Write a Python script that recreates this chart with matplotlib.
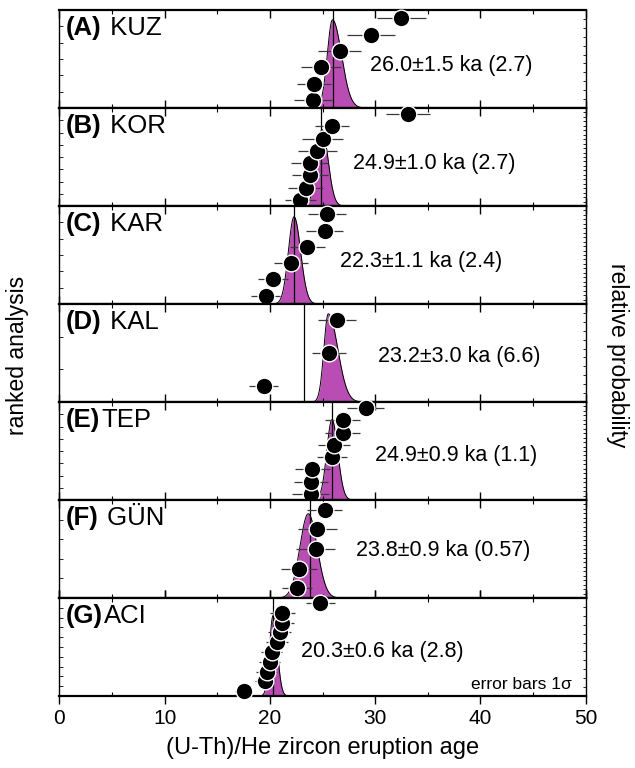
import numpy as np
import matplotlib
matplotlib.use("Agg")
import matplotlib.pyplot as plt

plt.rcParams['font.family'] = ['Liberation Sans', 'DejaVu Sans']

# ---------------- data ----------------
panel_letters = ["(A)", "(B)", "(C)", "(D)", "(E)", "(F)", "(G)"]
panel_names = [" KUZ", " KOR", " KAR", " KAL", "TEP", " GÜN", "ACI"]
stat_labels = ["26.0±1.5 ka (2.7)", "24.9±1.0 ka (2.7)", "22.3±1.1 ka (2.4)",
               "23.2±3.0 ka (6.6)", "24.9±0.9 ka (1.1)", "23.8±0.9 ka (0.57)",
               "20.3±0.6 ka (2.8)"]

# ranked ages (ascending, bottom to top) and 1-sigma errors
ages_A = [24.1, 24.2, 24.9, 26.65, 29.6, 32.5]
err_A = [1.8, 1.65, 1.9, 2.05, 2.3, 2.3]
ages_B = [22.9, 23.4, 23.8, 23.8, 24.5, 25.0, 25.9, 33.1]
err_B = [1.45, 1.65, 1.7, 1.75, 1.85, 1.9, 1.65, 2.1]
ages_C = [19.6, 20.3, 22.0, 23.55, 25.2, 25.45]
err_C = [1.35, 1.45, 1.6, 1.65, 1.75, 1.8]
ages_D = [19.4, 25.6, 26.4]
err_D = [1.4, 1.6, 1.8]
ages_E = [23.9, 23.9, 24.05, 25.9, 26.1, 26.9, 26.9, 29.1]
err_E = [1.75, 1.65, 1.65, 1.45, 1.5, 1.65, 1.65, 1.75]
ages_F = [22.6, 22.8, 24.35, 24.5, 25.2]
err_F = [1.4, 1.7, 1.85, 1.85, 1.65]
ages_G = [17.5, 19.5, 19.7, 20.0, 20.2, 20.7, 20.95, 21.2, 21.2, 24.8]
err_G = [0.8, 0.95, 1.0, 1.0, 1.0, 1.05, 1.1, 1.1, 1.15, 1.35]

ages = [ages_A, ages_B, ages_C, ages_D, ages_E, ages_F, ages_G]
errs = [err_A, err_B, err_C, err_D, err_E, err_F, err_G]

# vertical line positions (eruption age)
line_pos = [26.0, 24.9, 22.3, 23.2, 25.9, 23.8, 20.3]

# relative-probability curve (peak, left/right width, relative height)
pdf_center = [25.95, 24.95, 22.3, 25.55, 25.9, 23.65, 20.3]
pdf_sig_left = [0.5, 0.52, 0.54, 0.42, 0.5, 0.8, 0.33]
pdf_sig_right = [0.85, 0.58, 0.62, 0.9, 0.55, 0.84, 0.4]
pdf_height = [0.9, 0.78, 0.89, 0.9, 0.82, 0.86, 0.82]

# right-axis tick counts (relative probability scale)
right_ticks = [11, 22, 22, 11, 22, 22, 11]

xticks = [0, 10, 20, 30, 40, 50]

# ---------------- layout ----------------
W, H = 635, 768
fig = plt.figure(figsize=(W / 100, H / 100), dpi=100)
left_px, right_px = 59.3, 585.7
top_px, panel_h = 10.0, 98.0
magenta = '#B94DB4'

axes = []
for k in range(7):
    y_top = top_px + k * panel_h
    ax = fig.add_axes([left_px / W, 1 - (y_top + panel_h) / H,
                       (right_px - left_px) / W, panel_h / H])
    axes.append(ax)
    n = len(ages[k])
    ax.set_xlim(0, 50)
    ax.set_ylim(0, n)

    # probability curve
    xs = np.linspace(0, 50, 2001)
    sig = np.where(xs < pdf_center[k], pdf_sig_left[k], pdf_sig_right[k])
    ys = pdf_height[k] * n * np.exp(-0.5 * ((xs - pdf_center[k]) / sig) ** 2)
    ax.fill_between(xs, 0, ys, color=magenta, lw=0, zorder=1)
    ax.plot(xs, ys, color='black', lw=0.7, zorder=2)

    ax.axvline(line_pos[k], color='black', lw=0.9, zorder=3)

    yy = np.arange(n) + 0.5
    ax.errorbar(ages[k], yy, xerr=errs[k], fmt='none', ecolor='#3a3a3a',
                elinewidth=0.9, capsize=0, zorder=4)
    ax.plot(ages[k], yy, 'o', ms=12, mfc='black', mec='white', mew=1.0,
            zorder=5, clip_on=False)

    # spines
    for s in ['top', 'bottom']:
        ax.spines[s].set_linewidth(1.6)
    for s in ['left', 'right']:
        ax.spines[s].set_linewidth(1.0)

    ax.set_xticks(xticks)
    ax.set_xticks(np.arange(5, 50, 10), minor=True)
    ax.tick_params(axis='x', which='major', direction='in', length=6, width=1.0,
                   top=True, bottom=True, labelbottom=False)
    ax.tick_params(axis='x', which='minor', direction='in', length=3, width=0.8,
                   top=True, bottom=True)
    ax.set_yticks(np.arange(1, n))
    ax.tick_params(axis='y', which='major', direction='in', length=3, width=0.6,
                   left=True, right=False, labelleft=False)

    ax2 = ax.twinx()
    ax2.set_ylim(0, 1)
    ax2.set_yticks(np.linspace(0, 1, right_ticks[k] + 1)[1:-1])
    ax2.tick_params(axis='y', direction='in', length=2.5, width=0.6,
                    labelright=False)
    for s in ax2.spines.values():
        s.set_visible(False)

stat_x_px = [370, 353, 340, 378, 375, 356, 301]
stat_y = [0.43, 0.43, 0.43, 0.46, 0.45, 0.48, 0.45]
for k, ax in enumerate(axes):
    ax.text((stat_x_px[k] - left_px) / (right_px - left_px), stat_y[k], stat_labels[k],
            transform=ax.transAxes, fontsize=15.5, ha='left', va='center', zorder=6)

# panel labels
fig.canvas.draw()
renderer = fig.canvas.get_renderer()
for k, ax in enumerate(axes):
    t = ax.text(0.013, 0.815, panel_letters[k], transform=ax.transAxes,
                fontsize=18.5, fontweight='bold', ha='left', va='center', zorder=6)
    bb = t.get_window_extent(renderer)
    x_disp = bb.x1 + 1
    x_ax = ax.transAxes.inverted().transform((x_disp, 0))[0]
    ax.text(x_ax, 0.815, panel_names[k], transform=ax.transAxes,
            fontsize=18.5, ha='left', va='center', zorder=6)

axes[-1].text(0.974, 0.12, "error bars 1σ", transform=axes[-1].transAxes,
              fontsize=12.5, ha='right', va='center', zorder=6)

# bottom axis
axb = axes[-1]
axb.tick_params(axis='x', which='major', direction='out', length=6,
                labelbottom=True, labelsize=15, pad=3, top=True)
axb.set_xlabel("(U-Th)/He zircon eruption age", fontsize=17, labelpad=7)

fig.text(18 / W, 1 - 355 / H, "ranked analysis", rotation=90, fontsize=16.5,
         ha='center', va='center')
fig.text(617 / W, 1 - 355 / H, "relative probability", rotation=-90, fontsize=16.5,
         ha='center', va='center')

fig.savefig("out.png", dpi=100)
